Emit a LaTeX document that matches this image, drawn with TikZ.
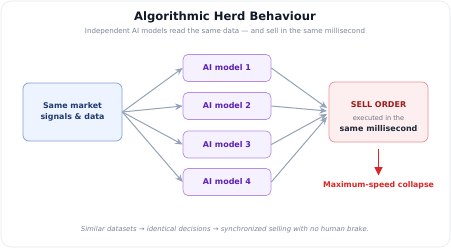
\documentclass[tikz,border=0pt]{standalone}
\usepackage{fontspec}
\setmainfont{DejaVu Sans}
\usetikzlibrary{arrows.meta}
\definecolor{cardborder}{HTML}{E5E7EB}
\definecolor{titlec}{HTML}{111827}
\definecolor{subc}{HTML}{7B8497}
\definecolor{srcfill}{HTML}{EEF4FF}
\definecolor{srcdraw}{HTML}{7FA0D8}
\definecolor{srctext}{HTML}{1E3A6E}
\definecolor{modfill}{HTML}{F6F1FF}
\definecolor{moddraw}{HTML}{B58CE6}
\definecolor{modtext}{HTML}{5B21B6}
\definecolor{sellfill}{HTML}{FDEFEF}
\definecolor{selldraw}{HTML}{EC8F92}
\definecolor{selltext}{HTML}{991B1B}
\definecolor{exectext}{HTML}{6B7280}
\definecolor{darktext}{HTML}{1F2937}
\definecolor{redc}{HTML}{DC2626}
\definecolor{arrowc}{HTML}{94A3B8}
\tikzset{
  srcbox/.style={draw=srcdraw, fill=srcfill, rounded corners=6pt, line width=0.7pt, minimum width=99pt, minimum height=58pt, align=center, text=srctext, font=\fontsize{7.9}{10.5}\selectfont\bfseries},
  modbox/.style={draw=moddraw, fill=modfill, rounded corners=5pt, line width=0.7pt, minimum width=88pt, minimum height=27pt, text=modtext, font=\fontsize{8}{9}\selectfont\bfseries},
  sellbox/.style={draw=selldraw, fill=sellfill, rounded corners=6pt, line width=0.7pt, minimum width=99pt, minimum height=60pt},
  flow/.style={draw=arrowc, line width=1pt, -{Stealth[length=7.5pt,width=6.5pt]}},
}
\begin{document}
\begin{tikzpicture}[x=1pt,y=-1pt]
\useasboundingbox (0,0) rectangle (451,249);
\draw[cardborder, fill=white, rounded corners=10pt, line width=0.6pt] (1,1) rectangle (450,247);
\node[text=titlec, font=\fontsize{11.6}{13}\selectfont\bfseries] (title) at (225,17) {Algorithmic Herd Behaviour};
\node[text=subc, font=\fontsize{7.1}{8}\selectfont] (sub) at (225,31.5) {Independent AI models read the same data — and sell in the same millisecond};
\node[srcbox] (src) at (72.5,112) {Same market\\signals \& data};
\node[modbox] (m1) at (227,68) {AI model 1};
\node[modbox] (m2) at (227,106) {AI model 2};
\node[modbox] (m3) at (227,144.5) {AI model 3};
\node[modbox] (m4) at (227,182) {AI model 4};
\node[sellbox] (sell) at (378.5,112) {};
\node[text=selltext, font=\fontsize{8}{9}\selectfont\bfseries] (s1) at (378.5,104.5) {SELL ORDER};
\node[text=exectext, font=\fontsize{6.6}{8}\selectfont] (s2) at (378.5,118) {executed in the};
\node[text=darktext, font=\fontsize{8}{9}\selectfont\bfseries] (s3) at (378.5,129) {same millisecond};
\coordinate (c1) at (327,108);
\coordinate (c2) at (327,111);
\coordinate (c3) at (327,114);
\coordinate (c4) at (327,117);
\foreach \i in {1,2,3,4} {\draw[flow] (src.east) -- (m\i.west);}
\foreach \i in {1,2,3,4} {\draw[flow] (m\i.east) -- (c\i);}
\node[text=redc, font=\fontsize{7.8}{9}\selectfont\bfseries] (col) at (378.5,185) {Maximum-speed collapse};
\coordinate (r1) at (378.5,148.5);
\coordinate (r2) at (378.5,175.5);
\draw[redc, line width=1.1pt, -{Triangle[length=8.5pt,width=8pt]}] (r1) -- (r2);
\node[text=subc, font=\fontsize{6.9}{8}\selectfont\itshape] (foot) at (225,230) {Similar datasets → identical decisions → synchronized selling with no human brake.};
\end{tikzpicture}
\end{document}
